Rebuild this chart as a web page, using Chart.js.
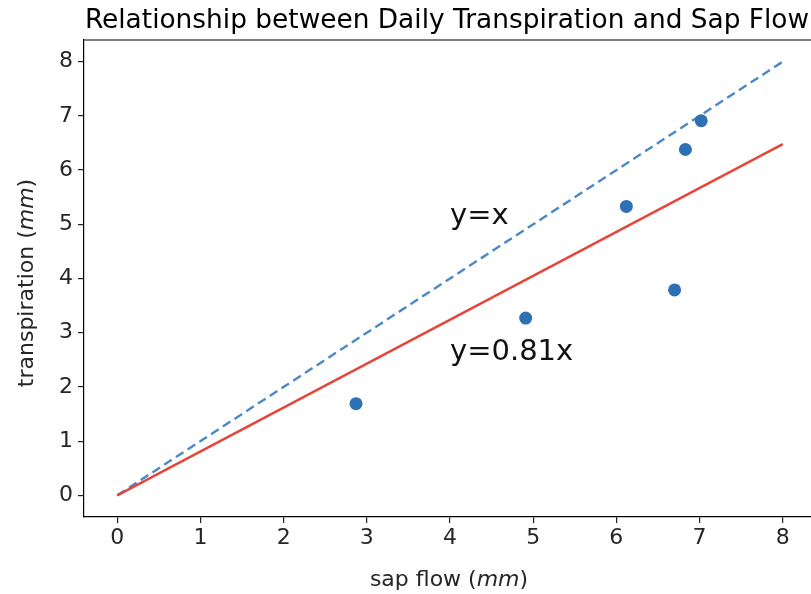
<!DOCTYPE html>
<html>
<head>
<meta charset="utf-8">
<script src="https://cdn.jsdelivr.net/npm/chart.js@4/dist/chart.umd.min.js"></script>
<style>
  html, body { margin: 0; padding: 0; background: #fff; overflow: hidden; }
  #wrap { width: 824px; height: 594px; }
</style>
</head>
<body>
<div id="wrap"><canvas id="chart" width="824" height="594"></canvas></div>
<script>
// Observed daily values
const sapFlow = [2.87, 4.91, 6.12, 6.70, 6.83, 7.02];
const transpiration = [1.69, 3.27, 5.33, 3.79, 6.38, 6.91];

// Reference lines
const lineX = [0, 8];
const oneToOne = [0, 8];
const fitLine = [0, 6.48];   // y = 0.81x

const xTicks = [0, 1, 2, 3, 4, 5, 6, 7, 8];
const yTicks = [0, 1, 2, 3, 4, 5, 6, 7, 8];

const FONT = "'DejaVu Sans', sans-serif";
const TEXT = '#262626';

function toPoints(xs, ys) {
    return xs.map((x, i) => ({ x: x, y: ys[i] }));
}

// Title, axis titles (with italic units), frame and annotations
const decorations = {
    id: 'decorations',
    afterDraw(chart) {
        const ctx = chart.ctx;
        const area = chart.chartArea;
        const xs = chart.scales.x;
        const ys = chart.scales.y;
        ctx.save();

        // top and right spines
        ctx.strokeStyle = '#000';
        ctx.lineWidth = 1.2;
        ctx.beginPath();
        ctx.moveTo(area.left, area.top);
        ctx.lineTo(area.right, area.top);
        ctx.lineTo(area.right, area.bottom);
        ctx.stroke();

        // title
        ctx.fillStyle = '#000';
        ctx.font = '26.4px ' + FONT;
        ctx.textAlign = 'center';
        ctx.textBaseline = 'alphabetic';
        ctx.fillText('Relationship between Daily Transpiration and Sap Flow', 447, 28);

        // mixed-font label helper
        function mixed(parts, cx, cy) {
            let total = 0;
            parts.forEach(p => { ctx.font = p.font; total += ctx.measureText(p.text).width; });
            let x = cx - total / 2;
            ctx.textAlign = 'left';
            parts.forEach(p => {
                ctx.font = p.font;
                ctx.fillText(p.text, x, cy);
                x += ctx.measureText(p.text).width;
            });
        }
        ctx.fillStyle = TEXT;
        ctx.textBaseline = 'middle';
        const plain = '22px ' + FONT;
        const ital = 'italic 22px ' + FONT;
        mixed([{ text: 'sap flow (', font: plain }, { text: 'mm', font: ital }, { text: ')', font: plain }],
              449, 580);

        ctx.save();
        ctx.translate(27, 283);
        ctx.rotate(-Math.PI / 2);
        mixed([{ text: 'transpiration (', font: plain }, { text: 'mm', font: ital }, { text: ')', font: plain }],
              0, 0);
        ctx.restore();

        // equation annotations
        ctx.fillStyle = '#111';
        ctx.font = '29px ' + FONT;
        ctx.textAlign = 'left';
        ctx.textBaseline = 'alphabetic';
        ctx.fillText('y=x', xs.getPixelForValue(4), ys.getPixelForValue(5));
        ctx.fillText('y=0.81x', xs.getPixelForValue(4), ys.getPixelForValue(2.5));

        ctx.restore();
    }
};

new Chart(document.getElementById('chart'), {
    type: 'scatter',
    data: {
        datasets: [
            {
                label: 'y=x',
                data: toPoints(lineX, oneToOne),
                showLine: true,
                borderColor: '#4a88c7',
                borderWidth: 2.4,
                borderDash: [9, 5],
                pointRadius: 0,
                order: 3
            },
            {
                label: 'y=0.81x',
                data: toPoints(lineX, fitLine),
                showLine: true,
                borderColor: '#e5453a',
                borderWidth: 2.4,
                pointRadius: 0,
                order: 2
            },
            {
                label: 'observed',
                data: toPoints(sapFlow, transpiration),
                backgroundColor: '#2e70b4',
                borderColor: '#2e70b4',
                pointRadius: 6.5,
                pointBorderWidth: 0,
                order: 1
            }
        ]
    },
    options: {
        responsive: false,
        animation: false,
        layout: { padding: { left: 0, top: 40, right: 8, bottom: 0 } },
        plugins: {
            legend: { display: false },
            tooltip: { enabled: false },
            title: { display: false }
        },
        scales: {
            x: {
                type: 'linear',
                min: -0.4,
                max: 8.4,
                afterBuildTicks: s => { s.ticks = xTicks.map(v => ({ value: v })); },
                afterFit: s => { s.height = 77; },
                ticks: {
                    color: TEXT,
                    font: { family: FONT, size: 22 },
                    padding: 2
                },
                grid: {
                    drawOnChartArea: false,
                    drawTicks: true,
                    tickLength: 6,
                    color: '#222',
                    lineWidth: 1.2
                },
                border: { display: true, color: '#000', width: 1.2 }
            },
            y: {
                type: 'linear',
                min: -0.4,
                max: 8.4,
                afterBuildTicks: s => { s.ticks = yTicks.map(v => ({ value: v })); },
                afterFit: s => { s.width = 84; },
                ticks: {
                    color: TEXT,
                    font: { family: FONT, size: 22 },
                    padding: 5
                },
                grid: {
                    drawOnChartArea: false,
                    drawTicks: true,
                    tickLength: 6,
                    color: '#222',
                    lineWidth: 1.2
                },
                border: { display: true, color: '#000', width: 1.2 }
            }
        }
    },
    plugins: [decorations]
});
</script>
</body>
</html>
